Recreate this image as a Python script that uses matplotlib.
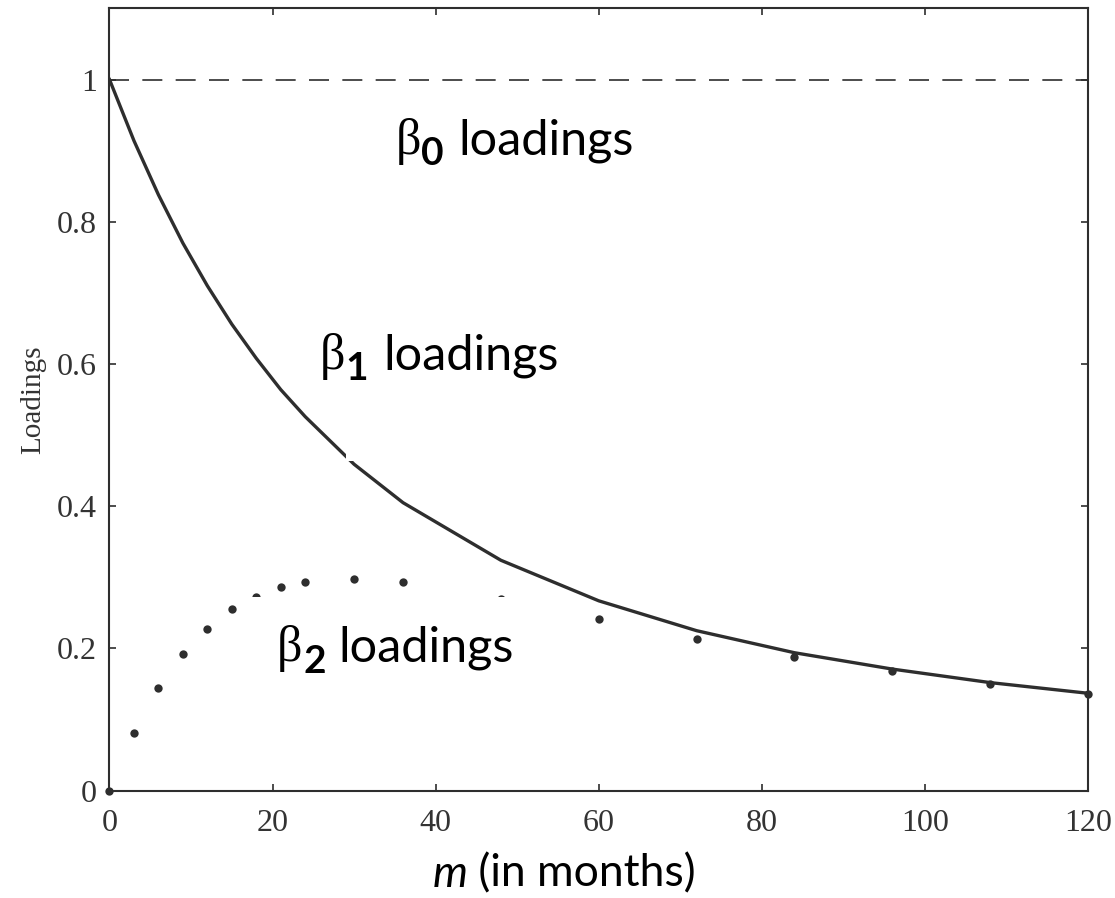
import matplotlib.pyplot as plt
from matplotlib.patches import Rectangle

# maturities in months
months = [0, 3, 6, 9, 12, 15, 18, 21, 24, 30, 36, 48, 60, 72, 84, 96, 108, 120]

# loadings
beta1 = [1.0, 0.914, 0.838, 0.770, 0.710, 0.656, 0.608, 0.564, 0.526,
         0.459, 0.405, 0.324, 0.267, 0.225, 0.194, 0.171, 0.152, 0.137]
beta2 = [0.0, 0.081, 0.144, 0.192, 0.228, 0.255, 0.273, 0.286, 0.294,
         0.298, 0.294, 0.270, 0.241, 0.213, 0.188, 0.168, 0.150, 0.136]
beta0 = 1.0

xticks = [0, 20, 40, 60, 80, 100, 120]
yticks = [0, 0.2, 0.4, 0.6, 0.8, 1.0]
yticklabels = ['0', '0.2', '0.4', '0.6', '0.8', '1']

ink = '#2e2e2e'
serif = 'Liberation Serif'
sans = 'Lato'

fig = plt.figure(figsize=(11.15, 8.98), dpi=100)
ax = fig.add_axes([0.0982, 0.1195, 0.8776, 0.8711])

ax.axhline(beta0, color=ink, lw=1.2, dashes=(12, 8))
ax.plot(months, beta1, color=ink, lw=2.4, solid_joinstyle='round')
ax.plot(months, beta2, linestyle='none', marker='o', ms=6, color=ink,
        markeredgewidth=0, clip_on=False)

ax.set_xlim(0, 120)
ax.set_ylim(0, 1.1)
ax.set_xticks(xticks)
ax.set_xticklabels([str(t) for t in xticks])
ax.set_yticks(yticks)
ax.set_yticklabels(yticklabels)
ax.tick_params(direction='in', length=5, width=1.2, color=ink, top=True,
               right=True, labelsize=23, labelcolor='#333333')
ax.tick_params(axis='x', pad=13)
ax.tick_params(axis='y', pad=9)
for lab in ax.get_xticklabels() + ax.get_yticklabels():
    lab.set_fontfamily(serif)
for sp in ax.spines.values():
    sp.set_linewidth(1.5)
    sp.set_color(ink)

ax.set_ylabel('Loadings', family=serif, fontsize=21, color='#333333', labelpad=8)

# white text boxes from the original slide hide bits of the marks
ax.add_patch(Rectangle((29, 0.463), 32, 0.2, facecolor='white', edgecolor='none', zorder=3))
ax.add_patch(Rectangle((16.6, 0.10), 38, 0.172, facecolor='white', edgecolor='none', zorder=3))


def beta_label(x, y, sub, sub_dx, word_dx, sub_dy):
    ax.annotate('β', xy=(x, y), xycoords='data', ha='left', va='baseline',
                family=serif, fontsize=36, zorder=4)
    ax.annotate(sub, xy=(x, y), xycoords='data', xytext=(sub_dx, sub_dy),
                textcoords='offset points', ha='left', va='baseline',
                family=sans, fontweight='bold', fontsize=28, zorder=4)
    ax.annotate('loadings', xy=(x, y), xycoords='data', xytext=(word_dx, 0),
                textcoords='offset points', ha='left', va='baseline',
                family=sans, fontsize=35, zorder=4)


beta_label(35.1, 0.895, '0', 18.5, 45, -8)
beta_label(25.8, 0.5925, '1', 18.5, 46, -8)
beta_label(20.5, 0.1817, '2', 19.5, 44.5, -8)

t = ax.text(0.33, -0.123, 'm', transform=ax.transAxes, family=sans,
            style='italic', fontsize=32, ha='left', va='baseline')
ax.annotate(' (in months)', xy=(1, 0), xycoords=t, ha='left', va='bottom',
            family=sans, fontsize=32)

fig.savefig('out.png', dpi=100)
